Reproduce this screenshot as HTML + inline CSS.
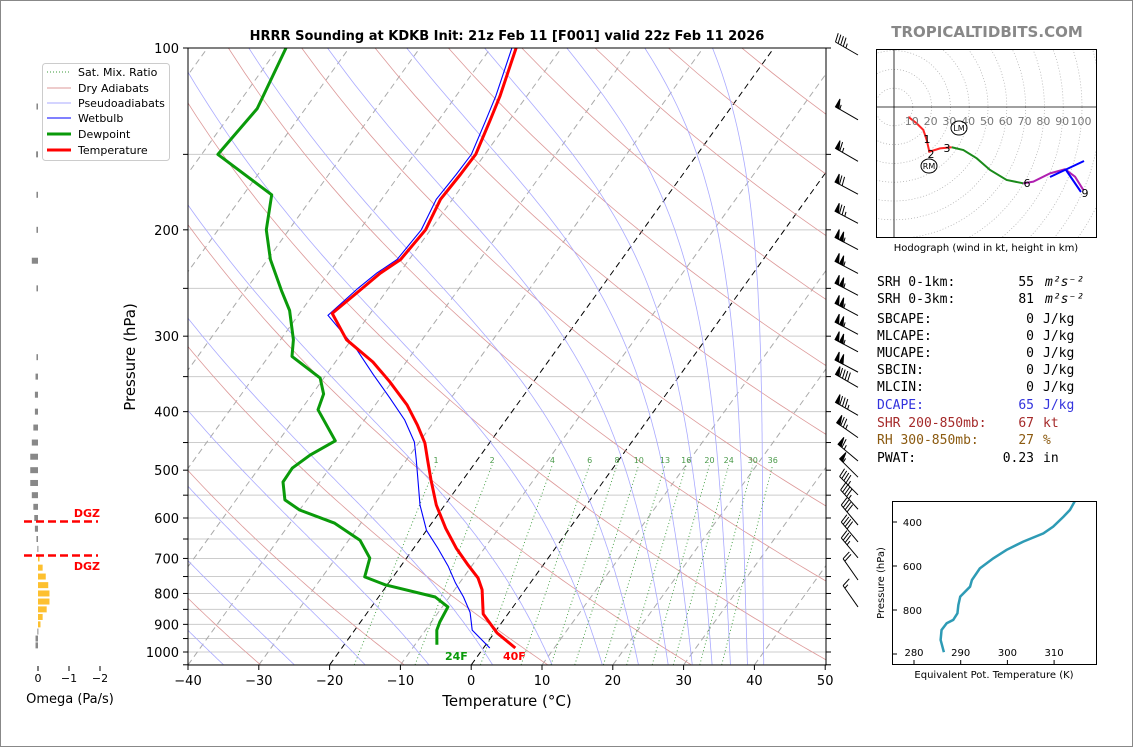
<!DOCTYPE html>
<html><head><meta charset="utf-8">
<style>
html,body{margin:0;padding:0;background:#fff;}
svg{display:block;font-family:"DejaVu Sans","Liberation Sans",sans-serif;}
.mono{font-family:"DejaVu Sans Mono","Liberation Mono",monospace;font-size:13px;}
</style></head>
<body>
<svg id="chart" width="1134" height="748" viewBox="0 0 1134 748">
<rect x="0.5" y="0.5" width="1132" height="746" fill="#fff" stroke="#888"/>
<defs><clipPath id="clipMain"><rect x="188" y="48" width="638" height="617"/></clipPath>
<clipPath id="clipHodo"><rect x="876" y="49" width="220" height="188"/></clipPath>
<clipPath id="clipTe"><rect x="892" y="501" width="205" height="164"/></clipPath></defs>
<g id="bg" clip-path="url(#clipMain)"></g>
<g id="profiles" clip-path="url(#clipMain)"></g>
<rect x="188" y="48" width="638" height="617" fill="none" stroke="#000" stroke-width="1"/>
<g id="axes"></g>
<text x="507" y="40" text-anchor="middle" font-size="13" font-weight="bold">HRRR Sounding at KDKB Init: 21z Feb 11 [F001] valid 22z Feb 11 2026</text>
<text x="987" y="37" text-anchor="middle" font-size="15" font-weight="bold" fill="#888">TROPICALTIDBITS.COM</text>
<text x="507" y="706" text-anchor="middle" font-size="15">Temperature (°C)</text>
<text x="135" y="357" text-anchor="middle" font-size="15" transform="rotate(-90 135 357)">Pressure (hPa)</text>
<text x="445" y="660" font-size="11" font-weight="bold" fill="#0a9a0a">24F</text>
<text x="503" y="660" font-size="11" font-weight="bold" fill="#f00">40F</text>
<g>
<rect x="42.5" y="63.5" width="127" height="97" rx="3" fill="#fff" stroke="#ccc"/>
<line x1="47" y1="72" x2="71" y2="72" stroke="#3a9a3a" stroke-width="1" stroke-dasharray="1,2"/><text x="78" y="76" font-size="11">Sat. Mix. Ratio</text>
<line x1="47" y1="88" x2="71" y2="88" stroke="#d99" stroke-width="1"/><text x="78" y="92" font-size="11">Dry Adiabats</text>
<line x1="47" y1="103" x2="71" y2="103" stroke="#aaf" stroke-width="1"/><text x="78" y="107" font-size="11">Pseudoadiabats</text>
<line x1="47" y1="118" x2="71" y2="118" stroke="#00f" stroke-width="1"/><text x="78" y="122" font-size="11">Wetbulb</text>
<line x1="47" y1="134" x2="71" y2="134" stroke="#0a9a0a" stroke-width="3"/><text x="78" y="138" font-size="11">Dewpoint</text>
<line x1="47" y1="150" x2="71" y2="150" stroke="#f00" stroke-width="3"/><text x="78" y="154" font-size="11">Temperature</text>
</g>
<g id="omega"></g>
<g id="barbs"></g>
<g id="hodo"></g>
<g id="stats" class="mono"></g>
<g id="te"></g>
</svg>
<script>
// ---- data ----
const tempP = [985,930,865,789,754,718,673,624,571,519,481,451,421,390,357,331,304,275,250,236,224,200,178,162,150,132,120,100];
const tempT = [4.5,0.4,-3.5,-6.1,-7.9,-10.6,-14,-17.5,-21.2,-24.5,-27,-29.1,-32,-35.5,-40.3,-44.7,-50.7,-55.4,-53.7,-52.7,-51.2,-50.7,-51.7,-51.4,-51.3,-52.7,-53.8,-56.4];
const dewP = [973,920,892,842,811,774,751,699,653,612,582,560,523,496,472,447,397,374,352,324,304,272,252,224,200,175,150,126,100];
const dewT = [-6.9,-8.4,-8.8,-9.2,-12,-20.3,-24,-25.2,-28.4,-33.7,-40,-43.1,-45.2,-45.3,-44.1,-42,-47.6,-48.4,-50.5,-56.7,-58.2,-61.7,-64.9,-69.6,-73.2,-76,-87.7,-86.8,-88.9];
const wbP = [985,920,860,811,768,721,673,629,571,525,481,449,413,380,347,316,277,250,236,224,200,178,162,150,132,120,100];
const wbT = [0.9,-3.4,-5.5,-8,-10.6,-13.3,-16.6,-20,-23.5,-26,-28.6,-30.7,-34.3,-38.6,-43.4,-48.2,-55.8,-54.3,-53.2,-51.7,-51.3,-52.3,-52,-51.9,-53.3,-54.4,-57];
const mixRatios = [1,2,4,6,8,10,13,16,20,24,30,36];
const omegaP = [125,150,175,200,225,250,325,350,375,400,425,450,475,500,525,550,575,600,625,650,675,700,725,750,775,800,825,850,875,900,925,950,975];
const omegaV = [0.05,0.06,0.05,0.05,0.2,0.05,0.05,0.08,0.1,0.1,0.15,0.2,0.25,0.25,0.25,0.2,0.15,0.12,0.1,0.05,0.02,-0.05,-0.15,-0.25,-0.33,-0.37,-0.37,-0.28,-0.15,-0.08,0.02,0.08,0.08];
const barbP = [100,128,150,170,190,210,230,250,270,290,310,335,355,395,430,470,500,535,565,600,640,680,740,820];
const barbSpd = [45,55,65,70,75,105,105,105,105,105,105,100,90,85,75,65,55,45,45,40,40,35,20,15];
const barbDir = [300,300,300,298,298,298,298,298,298,298,298,298,300,300,305,310,315,315,318,320,320,320,325,325];
const hodoU = [7.6,12.1,15.6,17.4,18.8,24.5,30.7,36.9,44,51.1,59.9,68.8,74.1,83,91,96.3,100.7];
const hodoV = [-5.2,-8.7,-12.2,-17.6,-23.8,-22,-21.4,-22.9,-27.3,-33.5,-38.8,-40.6,-39.7,-35.3,-33.1,-37.1,-44.1];
const teP = [992,936,891,860,845,815,777,739,694,664,611,565,527,489,452,421,376,345,303];
const teK = [286.4,285.7,285.9,287,288.4,289.3,289.5,289.9,292,292.4,294.1,297,299.8,303.4,307.7,309.8,312,313.4,314.5];
const xTicks = [-40,-30,-20,-10,0,10,20,30,40,50];
const yTicks = [100,200,300,400,500,600,700,800,900,1000];

const NS='http://www.w3.org/2000/svg';
function mk(parent,tag,attrs,txt){const e=document.createElementNS(NS,tag);for(const k in attrs)e.setAttribute(k,attrs[k]);if(txt!==undefined)e.textContent=txt;parent.appendChild(e);return e;}
const Y=p=>48+604*Math.log10(p/100);
const X=(T,p)=>188+(T+40)*7.08+(665-Y(p))*0.72;
const bg=document.getElementById('bg'), prof=document.getElementById('profiles'), axes=document.getElementById('axes');
function pts(ps,ts){return ps.map((p,i)=>X(ts[i],p).toFixed(1)+','+Y(p).toFixed(1)).join(' ');}

for(let p=100;p<=1050;p+=50){const l=mk(bg,'line',{x1:188,x2:826,y1:Y(p),y2:Y(p),stroke:'#ccc','stroke-width':1});

}
for(let T=-140;T<=50;T+=10){const l=mk(bg,'line',{x1:X(T,1050),y1:Y(1050),x2:X(T,100),y2:Y(100),stroke:(T==0||T==-20)?'#000':'#aaa','stroke-width':1,'stroke-dasharray':'6,4'});

}
const plev=[];for(let p=1050;p>=100;p-=10)plev.push(p);
for(let th=240;th<=480;th+=20){const tt=plev.map(p=>th*Math.pow(p/1000,0.2857)-273.15);
const l=mk(bg,'polyline',{points:pts(plev,tt),fill:'none',stroke:'#d99','stroke-width':0.8});

}
function es(T){return 6.112*Math.exp(17.67*T/(T+243.5));}
const moistStart=[-35,-25,-15,-6,3,11.4,18.5,23.6,27.8,31.2,34,36.6,39,41.3];
moistStart.forEach(T0=>{let T=T0+273.15,p=1050;const ps=[p],ts=[T0];
while(p>100){const dp=-5;const e=es(T-273.15);const rs=0.622*e/(p-e);
const dT=(287*T+2.5e6*rs)/(1004+2.5e6*2.5e6*rs*0.622/(287*T*T))/p*dp;T+=dT;p+=dp;ps.push(p);ts.push(T-273.15);}
const l=mk(bg,'polyline',{points:pts(ps,ts),fill:'none',stroke:'#aaf','stroke-width':0.8});

});
mixRatios.forEach(w=>{const ps=[1050,490];const ts=ps.map(p=>{const e=w*p/(622+w);const g=Math.log(e/6.112);return 243.5*g/(17.67-g);});
const l=mk(bg,'line',{x1:X(ts[0],ps[0]),y1:Y(ps[0]),x2:X(ts[1],ps[1]),y2:Y(ps[1]),stroke:'#3a9a3a','stroke-width':0.9,'stroke-dasharray':'1,2.5'});


const t=mk(bg,'text',{x:X(ts[1],ps[1]),y:Y(ps[1])-2,'font-size':8,fill:'#4a9a4a','text-anchor':'middle'},String(w));

});
let l;
l=mk(prof,'polyline',{points:pts(dewP,dewT),fill:'none',stroke:'#0a9a0a','stroke-width':3,'stroke-linejoin':'round'});


l=mk(prof,'polyline',{points:pts(wbP,wbT),fill:'none',stroke:'#00f','stroke-width':1.1});


l=mk(prof,'polyline',{points:pts(tempP,tempT),fill:'none',stroke:'#f00','stroke-width':3,'stroke-linejoin':'round'});


xTicks.forEach(T=>{const x=188+(T+40)*7.08;mk(axes,'line',{x1:x,x2:x,y1:665,y2:670,stroke:'#000'});
const t=mk(axes,'text',{x:x,y:685,'font-size':13,'text-anchor':'middle'},T<0?'\u2212'+(-T):String(T));

});
for(let p=100;p<=1050;p+=50){mk(axes,'line',{x1:183,x2:188,y1:Y(p),y2:Y(p),stroke:'#000'});mk(axes,'line',{x1:826,x2:831,y1:Y(p),y2:Y(p),stroke:'#000'});}
yTicks.forEach(p=>{const t=mk(axes,'text',{x:179,y:Y(p)+5,'font-size':13,'text-anchor':'end'},String(p));

});

const om=document.getElementById('omega');const OX=v=>38-v*31;
omegaP.forEach((p,i)=>{const v=omegaV[i];const x1=Math.min(OX(v),38),w=Math.max(Math.abs(OX(v)-38),1);
const r=mk(om,'rect',{x:x1,y:Y(p)-3,width:w,height:6,fill:v<0?'#fdc02f':'#888'});

});
[0,-1,-2].forEach(v=>{mk(om,'line',{x1:OX(v),x2:OX(v),y1:666,y2:671,stroke:'#000'});
const t=mk(om,'text',{x:OX(v),y:682,'font-size':11,'text-anchor':'middle'},v<0?'\u2212'+(-v):'0');

});
mk(om,'text',{x:70,y:703,'font-size':13,'text-anchor':'middle'},'Omega (Pa/s)');
mk(om,'line',{x1:24,x2:98,y1:521.5,y2:521.5,stroke:'#f00','stroke-width':2.5,'stroke-dasharray':'8,4'});
mk(om,'line',{x1:24,x2:98,y1:555.5,y2:555.5,stroke:'#f00','stroke-width':2.5,'stroke-dasharray':'8,4'});
mk(om,'text',{x:100,y:517,'font-size':11,'font-weight':'bold',fill:'#f00','text-anchor':'end'},'DGZ');
mk(om,'text',{x:100,y:570,'font-size':11,'font-weight':'bold',fill:'#f00','text-anchor':'end'},'DGZ');

const bb=document.getElementById('barbs');
barbP.forEach((p,i)=>{const y=Y(p);const bx=858,by=y+7;const a=(barbDir[i])*Math.PI/180;
const dx=Math.sin(a),dy=-Math.cos(a);const L=26;const tx=bx+dx*L,ty=by+dy*L;
const px=-dy,py=dx;const g=mk(bb,'g',{stroke:'#000','stroke-width':1,fill:'#000'});


mk(g,'line',{x1:bx,y1:by,x2:tx,y2:ty});
let s=Math.round(barbSpd[i]/5)*5;let pos=0;const bl=9;
let fx=px,fy=py;if(fy>0){fx=-fx;fy=-fy;}
while(s>=50){const x0=tx-dx*pos,y0=ty-dy*pos;const x2=x0-dx*4,y2=y0-dy*4;
mk(g,'polygon',{points:`${x0},${y0} ${x0+fx*bl},${y0+fy*bl} ${x2},${y2}`});pos+=5;s-=50;}
while(s>=10){const x0=tx-dx*pos,y0=ty-dy*pos;mk(g,'line',{x1:x0,y1:y0,x2:x0+fx*bl+dx*2,y2:y0+fy*bl+dy*2});pos+=3;s-=10;}
if(s>=5){const x0=tx-dx*pos,y0=ty-dy*pos;mk(g,'line',{x1:x0,y1:y0,x2:x0+fx*bl/2+dx,y2:y0+fy*bl/2+dy});}
});

const hg=document.getElementById('hodo');const HX=u=>894+u*1.88,HY=v=>107-v*1.88;
const hc=mk(hg,'g',{'clip-path':'url(#clipHodo)'});
for(let r=10;r<=140;r+=10){mk(hc,'circle',{cx:894,cy:107,r:r*1.88,fill:'none',stroke:'#aaa','stroke-width':0.7,'stroke-dasharray':'1,2'});}
mk(hc,'line',{x1:876,x2:1096,y1:107,y2:107,stroke:'#000','stroke-width':0.8});
mk(hc,'line',{x1:894,x2:894,y1:49,y2:237,stroke:'#000','stroke-width':0.8});
for(let r=10;r<=100;r+=10){mk(hg,'text',{x:HX(r)-1,y:125,'font-size':11,fill:'#777','text-anchor':'middle'},String(r));}
function seg(a,b,col){const p=[];for(let i=a;i<=b;i++)p.push(HX(hodoU[i])+','+HY(hodoV[i]));
const l=mk(hc,'polyline',{points:p.join(' '),fill:'none',stroke:col,'stroke-width':2});

}
seg(0,6,'#f22');seg(6,11,'#1a8a1a');seg(11,16,'#b020b0');
mk(hc,'line',{x1:1050,y1:177,x2:1084,y2:161,stroke:'#00f','stroke-width':2});
mk(hc,'line',{x1:1066,y1:170,x2:1081,y2:192,stroke:'#00f','stroke-width':2});
[['1',927,143],['2',931,158],['3',947,152],['6',1027,187],['9',1085,197]].forEach(a=>mk(hg,'text',{x:a[1],y:a[2],'font-size':11,'text-anchor':'middle'},a[0]));
mk(hg,'ellipse',{cx:959,cy:128,rx:8,ry:7,fill:'none',stroke:'#000'});mk(hg,'text',{x:959,y:131,'font-size':8,'text-anchor':'middle'},'LM');
mk(hg,'ellipse',{cx:929,cy:166,rx:8,ry:7,fill:'none',stroke:'#000'});mk(hg,'text',{x:929,y:169,'font-size':8,'text-anchor':'middle'},'RM');
mk(hg,'rect',{x:876.5,y:49.5,width:220,height:188,fill:'none',stroke:'#000'});
mk(hg,'text',{x:986,y:251,'font-size':10,'text-anchor':'middle'},'Hodograph (wind in kt, height in km)');

const st=document.getElementById('stats');
const rows=[['SRH 0-1km:','55','m\u00b2s\u207b\u00b2','#000',286],['SRH 0-3km:','81','m\u00b2s\u207b\u00b2','#000',303],['SBCAPE:','0','J/kg','#000',323],['MLCAPE:','0','J/kg','#000',340],['MUCAPE:','0','J/kg','#000',357],['SBCIN:','0','J/kg','#000',374],['MLCIN:','0','J/kg','#000',391],['DCAPE:','65','J/kg','#3333dd',409],['SHR 200-850mb:','67','kt','#a52a2a',427],['RH 300-850mb:','27','%','#8b5a10',444],['PWAT:','0.23','in','#000',462]];
rows.forEach(r=>{const a=mk(st,'text',{x:877,y:r[4],fill:r[3]},r[0]);


mk(st,'text',{x:1034,y:r[4],fill:r[3],'text-anchor':'end'},r[1]);
mk(st,'text',{x:r[2].startsWith('m')?1045:1043,y:r[4],fill:r[3],'font-style':r[2].startsWith('m')?'italic':'normal'},r[2]);});

const te=document.getElementById('te');const TX=k=>914+(k-280)*4.67,TY=p=>522+(p-400)*0.22;
const tl=mk(te,'polyline',{points:teP.map((p,i)=>TX(teK[i])+','+TY(p)).join(' '),fill:'none',stroke:'#2e9bb5','stroke-width':2.5,'clip-path':'url(#clipTe)'});


mk(te,'rect',{x:892.5,y:501.5,width:204,height:163,fill:'none',stroke:'#000'});
[400,600,800,1000].forEach(p=>{mk(te,'line',{x1:892,x2:897,y1:TY(p),y2:TY(p),stroke:'#000'});
if(p<1000)mk(te,'text',{x:922,y:TY(p)+4,'font-size':10,'text-anchor':'end'},String(p));});
[280,290,300,310].forEach(k=>{mk(te,'line',{x1:TX(k),x2:TX(k),y1:660,y2:665,stroke:'#000'});
mk(te,'text',{x:TX(k),y:656,'font-size':10,'text-anchor':'middle'},String(k));});
mk(te,'text',{x:994,y:678,'font-size':10,'text-anchor':'middle'},'Equivalent Pot. Temperature (K)');
mk(te,'text',{x:884,y:583,'font-size':10,'text-anchor':'middle',transform:'rotate(-90 884 583)'},'Pressure (hPa)');
</script>
</body></html>
